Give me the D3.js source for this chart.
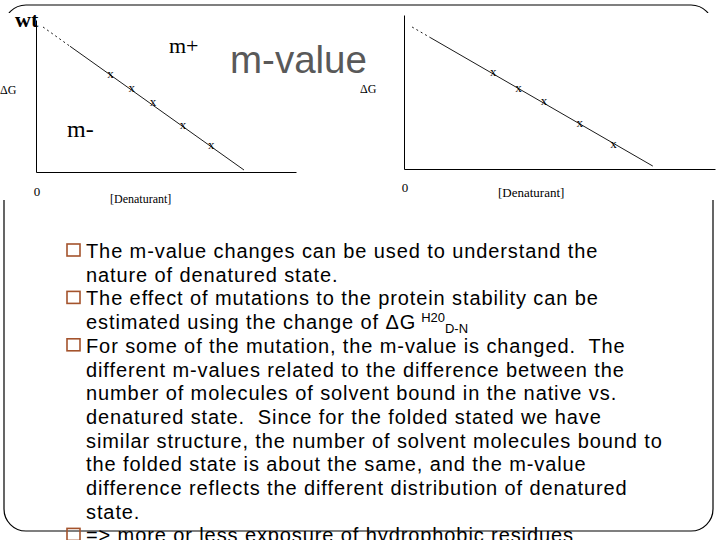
<!DOCTYPE html>
<html>
<head>
<meta charset="utf-8">
<script src="https://cdn.jsdelivr.net/npm/d3@7"></script>
<style>
  body { margin: 0; background: #fff; }
</style>
</head>
<body>
<div id="slide"></div>
<script>
// marks ([Denaturant] vs dG)
var denaturant = [2.87, 3.68, 4.5, 5.65, 6.74];
var dgLeft = [6.38, 5.46, 4.54, 3.03, 1.71];
var dgRight = [6.23, 5.19, 4.35, 2.92, 1.56];
// fitted line: start, end of dotted part, end
var fitLeftX = [0.27, 1.31, 8.0];
var fitLeftY = [9.54, 8.27, 0.13];
var fitRightX = [0.26, 0.84, 8.0];
var fitRightY = [9.22, 8.54, 0.19];

var textLines = [
  "The m-value changes can be used to understand the",
  "nature of denatured state.",
  "The effect of mutations to the protein stability can be",
  "estimated using the change of \u0394G",
  "For some of the mutation, the m-value is changed.  The",
  "different m-values related to the difference between the",
  "number of molecules of solvent bound in the native vs.",
  "denatured state.  Since for the folded stated we have",
  "similar structure, the number of solvent molecules bound to",
  "the folded state is about the same, and the m-value",
  "difference reflects the different distribution of denatured",
  "state.",
  "=> more or less exposure of hydrophobic residues"
];
var bulletRows = [0, 2, 4, 12];
var supText = "H20";
var subText = "D-N";

var W = 720, H = 540;
var serif = "'Liberation Serif', 'Times New Roman', serif";
var sans = "'Liberation Sans', Arial, sans-serif";

var svg = d3.select("#slide").append("svg")
  .attr("width", W)
  .attr("height", H)
  .style("display", "block");

svg.append("rect").attr("width", W).attr("height", H).attr("fill", "#fff");

// slide frame, then the white picture area that hides part of it
svg.append("rect")
  .attr("x", 4).attr("y", 5)
  .attr("width", 709).attr("height", 526)
  .attr("rx", 22).attr("ry", 22)
  .attr("fill", "none")
  .attr("stroke", "#000")
  .attr("stroke-width", 1.2);
svg.append("rect")
  .attr("x", 0).attr("y", 13)
  .attr("width", W).attr("height", 187)
  .attr("fill", "#fff");

function drawPlot(opt) {
  var x = d3.scaleLinear().domain([0, 10]).range(opt.xr);
  var y = d3.scaleLinear().domain([0, 10]).range(opt.yr);
  var g = svg.append("g");

  g.append("g")
    .attr("transform", "translate(0," + opt.yr[0] + ")")
    .call(d3.axisBottom(x).tickValues([]).tickSizeOuter(0))
    .select(".domain").attr("stroke", "#000");
  g.append("g")
    .attr("transform", "translate(" + opt.xr[0] + ",0)")
    .call(d3.axisLeft(y).tickValues([]).tickSizeOuter(0))
    .select(".domain").attr("stroke", "#000");

  var line = d3.line().x(function(d) { return x(d[0]); }).y(function(d) { return y(d[1]); });
  var pts = opt.fx.map(function(v, i) { return [v, opt.fy[i]]; });
  g.append("path")
    .attr("d", line(pts.slice(0, 2)))
    .attr("fill", "none")
    .attr("stroke", "#000")
    .attr("stroke-width", 0.9)
    .attr("stroke-dasharray", "2,3");
  g.append("path")
    .attr("d", line(pts.slice(1)))
    .attr("fill", "none")
    .attr("stroke", "#000")
    .attr("stroke-width", 0.9);

  g.selectAll(".mark")
    .data(denaturant)
    .enter()
    .append("text")
    .attr("class", "mark")
    .attr("x", function(d) { return x(d); })
    .attr("y", function(d, i) { return y(opt.dg[i]) + 3; })
    .attr("text-anchor", "middle")
    .attr("font-family", serif)
    .attr("font-size", 13)
    .attr("fill", "#000")
    .text("x");

  g.append("text")
    .attr("x", opt.xr[0] + 1).attr("y", opt.yr[0] + opt.zeroDy)
    .attr("text-anchor", "middle")
    .attr("font-family", serif).attr("font-size", 13)
    .text("0");
  g.append("text")
    .attr("x", opt.denX).attr("y", opt.yr[0] + opt.denDy)
    .attr("font-family", serif).attr("font-size", opt.denSize)
    .text("[Denaturant]");
  g.append("text")
    .attr("x", opt.dgX).attr("y", opt.dgY)
    .attr("font-family", serif).attr("font-size", 12)
    .text("\u0394G");
  return g;
}

var left = drawPlot({
  xr: [36, 296], yr: [172, 20],
  dg: dgLeft, fx: fitLeftX, fy: fitLeftY,
  zeroDy: 24, denX: 110, denDy: 31, denSize: 12,
  dgX: 0, dgY: 94
});
left.append("text").attr("x", 15).attr("y", 27)
  .attr("font-family", serif).attr("font-size", 22).attr("font-weight", "bold")
  .text("wt");
left.append("text").attr("x", 169).attr("y", 53)
  .attr("font-family", serif).attr("font-size", 22)
  .text("m+");
left.append("text").attr("x", 67).attr("y", 137)
  .attr("font-family", serif).attr("font-size", 24)
  .text("m-");

drawPlot({
  xr: [404, 715], yr: [169, 15],
  dg: dgRight, fx: fitRightX, fy: fitRightY,
  zeroDy: 23, denX: 498, denDy: 28, denSize: 13,
  dgX: 360, dgY: 93
});

svg.append("text")
  .attr("x", 230).attr("y", 73)
  .attr("font-family", sans).attr("font-size", 38.5)
  .attr("fill", "#595959")
  .text("m-value");

// bullet text
var lineY = d3.scaleLinear().domain([0, 1]).range([258, 281.7]);
var body = svg.append("g")
  .attr("font-family", sans)
  .attr("font-size", 20)
  .attr("letter-spacing", 0.9)
  .attr("fill", "#000");

var rows = body.selectAll(".row")
  .data(textLines)
  .enter()
  .append("text")
  .attr("class", "row")
  .attr("x", 86)
  .attr("y", function(d, i) { return lineY(i); })
  .style("white-space", "pre")
  .text(function(d) { return d; });

rows.filter(function(d, i) { return i === 3; })
  .each(function() {
    var t = d3.select(this);
    t.append("tspan").attr("font-size", 13).attr("letter-spacing", 0).attr("dx", 5).attr("dy", -7).text(supText);
    t.append("tspan").attr("font-size", 13).attr("letter-spacing", 0).attr("dy", 11).text(subText);
  });

body.selectAll(".bullet")
  .data(bulletRows)
  .enter()
  .append("rect")
  .attr("class", "bullet")
  .attr("x", 67)
  .attr("y", function(d) { return lineY(d) - 14; })
  .attr("width", 13)
  .attr("height", 12)
  .attr("fill", "none")
  .attr("stroke", "#a4532c")
  .attr("stroke-width", 1.6);
</script>
</body>
</html>
